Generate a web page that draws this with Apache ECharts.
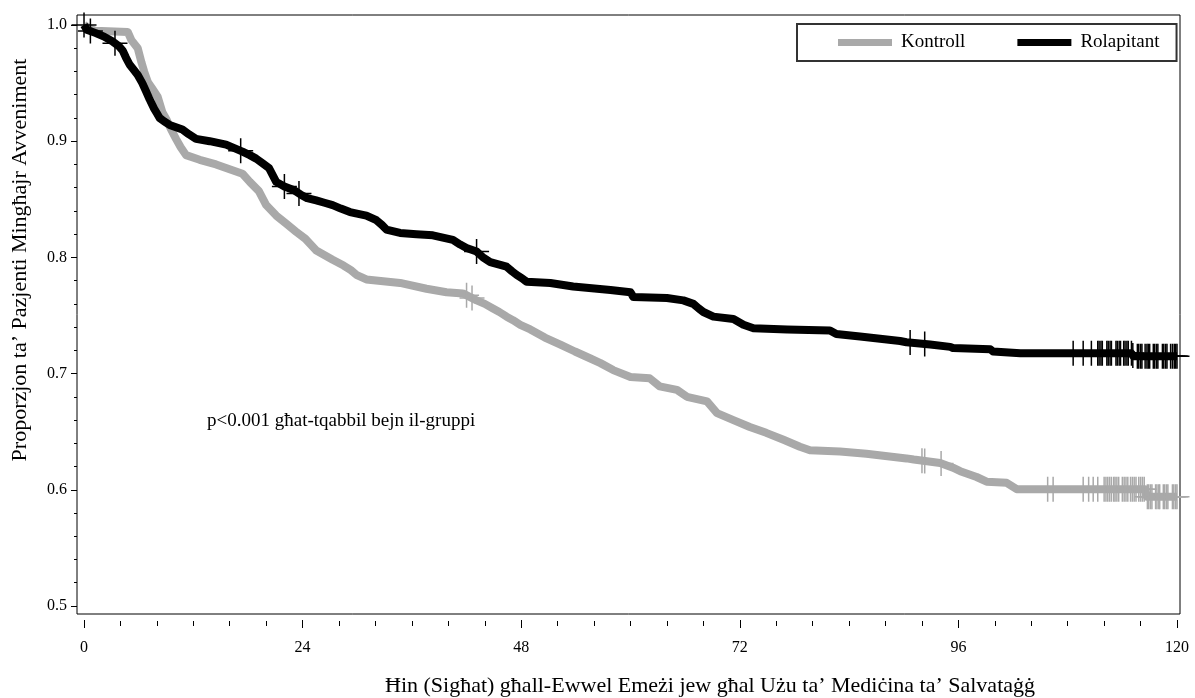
<!DOCTYPE html>
<html>
<head>
<meta charset="utf-8">
<script src="https://cdn.jsdelivr.net/npm/echarts@6/dist/echarts.min.js"></script>
<style>html,body{margin:0;padding:0;background:#fff;}#c{width:1195px;height:698px;}</style>
</head>
<body>
<div id="c"></div>
<script>
// ---- Data ----
const seriesNames = ['Kontroll', 'Rolapitant'];
const xTickLabels = [0, 24, 48, 72, 96, 120];
const xMinorTicks = [0,4,8,12,16,20,24,28,32,36,40,44,48,52,56,60,64,68,72,76,80,84,88,92,96,100,104,108,112,116,120];
const yTickLabels = [0.5, 0.6, 0.7, 0.8, 0.9, 1.0];
const yMinorTicks = [0.5,0.52,0.54,0.56,0.58,0.6,0.62,0.64,0.66,0.68,0.7,0.72,0.74,0.76,0.78,0.8,0.82,0.84,0.86,0.88,0.9,0.92,0.94,0.96,0.98,1.0];

// Rolapitant KM curve: time (h) and proportion event-free
const rolT = [0,0.3,1.3,2.2,3.1,3.8,4.25,4.6,5.0,5.5,5.9,6.4,6.8,7.2,7.7,8.0,8.3,8.8,9.4,10.1,10.8,11.5,12.3,13.8,15.6,16.5,17.4,18.2,18.9,19.6,20.3,20.7,21.1,22.0,23.0,23.8,24.5,25.5,26.4,27.3,28.2,29.2,31.0,32.1,32.7,33.2,34.7,36.5,38.3,40.5,41.3,42.0,43.1,43.8,44.6,46.4,47.0,47.5,48.1,48.6,51.2,53.7,57.8,60.0,60.3,64.0,65.8,66.9,67.5,68.0,69.1,71.3,72.4,73.5,77.2,81.9,82.6,85.2,89.6,90.3,92.9,95.1,95.4,99.5,99.8,102.8,115.0,115.2,120];
const rolV = [1.0,0.996,0.993,0.990,0.986,0.982,0.978,0.972,0.966,0.961,0.957,0.950,0.943,0.936,0.928,0.924,0.920,0.917,0.914,0.912,0.910,0.906,0.902,0.900,0.897,0.894,0.891,0.888,0.885,0.881,0.877,0.871,0.865,0.861,0.858,0.854,0.851,0.849,0.847,0.845,0.842,0.839,0.836,0.832,0.828,0.824,0.821,0.820,0.819,0.815,0.811,0.808,0.805,0.800,0.796,0.792,0.788,0.785,0.782,0.779,0.778,0.775,0.772,0.770,0.766,0.765,0.763,0.760,0.756,0.753,0.749,0.747,0.742,0.739,0.738,0.737,0.734,0.732,0.728,0.727,0.725,0.723,0.722,0.721,0.719,0.7175,0.7175,0.715,0.715];

// Kontroll KM curve
const ctrlT = [0,0.6,1.2,4.8,5.2,5.9,6.3,6.6,7.0,7.6,8.1,8.6,9.1,9.5,10.1,10.6,11.2,12.7,14.5,16.3,17.4,18.2,19.2,20.0,21.1,22.2,23.3,24.3,25.5,27.3,28.5,29.3,29.9,31.0,34.7,37.6,39.8,41.6,43.1,44.0,44.9,45.6,46.4,47.1,47.9,49.0,50.6,52.3,53.9,55.6,56.7,58.1,60.0,62.1,63.2,65.1,66.2,68.4,69.5,71.3,73.1,74.9,76.8,78.6,79.7,83.0,85.9,90.3,91.1,94.0,95.4,96.2,98.0,99.1,101.3,102.4,116.5,116.7,120];
const ctrlV = [1.0,0.997,0.995,0.994,0.987,0.980,0.968,0.960,0.951,0.944,0.938,0.925,0.918,0.911,0.902,0.895,0.888,0.884,0.880,0.875,0.872,0.865,0.857,0.845,0.836,0.829,0.822,0.816,0.806,0.798,0.793,0.789,0.785,0.781,0.778,0.773,0.770,0.769,0.763,0.760,0.756,0.753,0.749,0.746,0.742,0.738,0.731,0.725,0.719,0.713,0.709,0.703,0.697,0.696,0.689,0.686,0.680,0.676,0.666,0.660,0.654,0.649,0.643,0.637,0.634,0.633,0.631,0.627,0.626,0.623,0.619,0.616,0.611,0.607,0.606,0.6005,0.6005,0.594,0.594];

// Censoring times
const rolCensor = [0,0.7,3.4,17.2,22.0,23.6,43.1,90.7,92.3,108.6,109.7,110.6,
  111.3,111.45,111.65,111.8, 112.3,112.45,112.65,112.8, 113.3,113.45,113.65,113.8,
  114.15,114.3,114.5,114.65, 115.0,115.15, 115.65,115.8,116.0,116.15, 116.5,116.7,116.85,117.0,
  117.4,117.55,117.75,117.9, 118.4,118.55,118.75,118.9, 119.3,119.5,119.7,119.85,120.0];
const ctrlCensor = [42.0,42.6,92.0,92.3,94.1,105.8,106.4,109.7,110.3,110.8,111.3,
  112.0,112.2,112.4,112.6,112.8, 113.05,113.2,113.4,113.6, 114.0,114.2,114.4,114.6,
  114.9,115.1,115.3,115.5, 115.8,116.0,116.2,116.4, 116.75,116.9,117.1,117.25,
  117.65,117.8,118.0,118.1, 118.5,118.65,118.85,119.0, 119.5,119.65,119.85,120.0];

// ---- build ----
function pairs(ts, vs) { return ts.map((t, i) => [t, vs[i]]); }
function levelAt(ts, vs, t) {
  // value on the plotted curve at time t
  for (let i = 0; i < ts.length - 1; i++) {
    if (t >= ts[i] && t <= ts[i + 1]) {
      const f = (t - ts[i]) / (ts[i + 1] - ts[i]);
      return vs[i] + f * (vs[i + 1] - vs[i]);
    }
  }
  return vs[vs.length - 1];
}
function censorPts(cs, ts, vs) { return cs.map(t => [t, levelAt(ts, vs, t)]); }

const FONT = '"Liberation Serif", "Times New Roman", serif';
const plus = 'path://M5,0L5,10M0,5L10,5';
const GRAY = '#a9a9a9';

const axisCommon = { axisLine: { show: false, onZero: false }, splitLine: { show: false } };

const chart = echarts.init(document.getElementById('c'), null, {renderer: 'canvas'});
chart.setOption({
  animation: false,
  backgroundColor: '#fff',
  grid: { left: 77, right: 15, top: 15, bottom: 84, show: true, borderColor: '#000', borderWidth: 1, backgroundColor: 'transparent' },
  xAxis: [
    Object.assign({ type: 'value', min: -0.77, max: 120.33, position: 'bottom', offset: 6,
      axisTick: { show: true, customValues: xTickLabels, length: 8, lineStyle: { color: '#000', width: 1 } },
      axisLabel: { customValues: xTickLabels, margin: 20, fontSize: 16, fontFamily: FONT, color: '#000' } }, axisCommon),
    Object.assign({ type: 'value', min: -0.77, max: 120.33, position: 'bottom', offset: 7,
      axisTick: { show: true, customValues: xMinorTicks, length: 5, lineStyle: { color: '#000', width: 1 } },
      axisLabel: { show: false } }, axisCommon)
  ],
  yAxis: [
    Object.assign({ type: 'value', min: 0.4931, max: 1.0086, position: 'left',
      axisTick: { show: true, customValues: yTickLabels, length: 6, lineStyle: { color: '#000', width: 1 } },
      axisLabel: { customValues: yTickLabels, margin: 10, fontSize: 16, fontFamily: FONT, color: '#000',
        formatter: v => v.toFixed(1) } }, axisCommon),
    Object.assign({ type: 'value', min: 0.4931, max: 1.0086, position: 'left',
      axisTick: { show: true, customValues: yMinorTicks, length: 3, lineStyle: { color: '#000', width: 1 } },
      axisLabel: { show: false } }, axisCommon)
  ],
  legend: {
    data: seriesNames, left: 797, top: 24, orient: 'horizontal',
    icon: 'rect', itemWidth: 54, itemHeight: 7, itemGap: 52,
    padding: [9, 17, 9, 41], borderColor: '#333', borderWidth: 2, backgroundColor: '#fff',
    textStyle: { fontSize: 19, fontFamily: FONT, color: '#000', padding: [0, 0, 0, 4] },
    selectedMode: false
  },
  graphic: [
    { type: 'text', x: 20, y: 260, rotation: Math.PI / 2,
      style: { text: 'Proporzjon ta\u2019 Pazjenti Mingħajr Avveniment', font: '22px ' + FONT, fill: '#000', align: 'center', verticalAlign: 'middle' } },
    { type: 'text', x: 710, y: 686,
      style: { text: 'Ħin (Sigħat) għall-Ewwel Emeżi jew għal Użu ta\u2019 Mediċina ta\u2019 Salvataġġ', font: '22px ' + FONT, fill: '#000', align: 'center', verticalAlign: 'middle' } },
    { type: 'text', x: 207, y: 421,
      style: { text: 'p<0.001 għat-tqabbil bejn il-gruppi', font: '19px ' + FONT, fill: '#000', align: 'left', verticalAlign: 'middle' } }
  ],
  series: [
    { name: 'Kontroll', type: 'line', showSymbol: false, symbol: 'none',
      data: pairs(ctrlT, ctrlV), color: GRAY,
      lineStyle: { color: GRAY, width: 8, join: 'round', cap: 'butt' }, itemStyle: { color: GRAY }, z: 2 },
    { name: 'Kontroll censor', type: 'scatter', data: censorPts(ctrlCensor, ctrlT, ctrlV),
      symbol: plus, symbolSize: 25, clip: false,
      itemStyle: { color: 'transparent', borderColor: GRAY, borderWidth: 1.5, opacity: 1 }, z: 3 },
    { name: 'Rolapitant', type: 'line', showSymbol: false, symbol: 'none',
      data: pairs(rolT, rolV), color: '#000',
      lineStyle: { color: '#000', width: 8, join: 'round', cap: 'butt' }, itemStyle: { color: '#000' }, z: 4 },
    { name: 'Rolapitant censor', type: 'scatter', data: censorPts(rolCensor, rolT, rolV),
      symbol: plus, symbolSize: 25, clip: false,
      itemStyle: { color: 'transparent', borderColor: '#000', borderWidth: 1.5, opacity: 1 }, z: 5 }
  ]
});
</script>
</body>
</html>
